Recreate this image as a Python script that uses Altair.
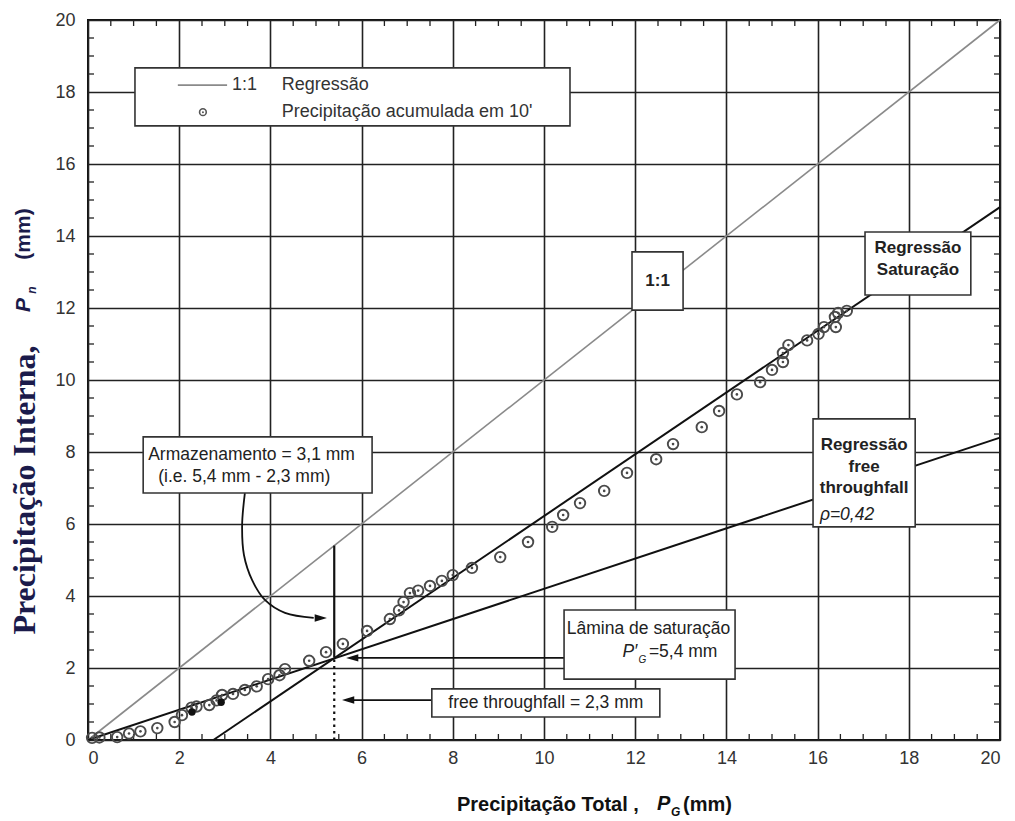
import altair as alt
import pandas as pd

# ---- observed 10-minute accumulations: gross rainfall (PG) vs throughfall (Pn), mm
pg_obs = [0.09, 0.25, 0.64, 0.90, 1.15, 1.52, 1.90, 2.06, 2.27, 2.38, 2.66, 2.82, 2.94,
          3.18, 3.44, 3.70, 3.95, 4.20, 4.32, 4.85, 5.22, 5.59, 6.12, 6.62, 6.82, 6.92,
          7.06, 7.24, 7.50, 7.76, 8.00, 8.42, 9.04, 9.65, 10.18, 10.42, 10.79, 11.32,
          11.82, 12.46, 12.83, 13.46, 13.84, 14.23, 14.74, 15.00, 15.24, 15.24, 15.36,
          15.77, 16.02, 16.14, 16.40, 16.38, 16.45, 16.64]
pn_obs = [0.06, 0.07, 0.08, 0.18, 0.24, 0.33, 0.50, 0.69, 0.90, 0.93, 0.97, 1.10, 1.25,
          1.28, 1.39, 1.49, 1.69, 1.80, 1.97, 2.20, 2.44, 2.67, 3.03, 3.36, 3.60, 3.83,
          4.08, 4.15, 4.28, 4.42, 4.58, 4.78, 5.08, 5.50, 5.92, 6.25, 6.58, 6.92,
          7.42, 7.80, 8.22, 8.69, 9.14, 9.60, 9.94, 10.28, 10.50, 10.75, 10.97,
          11.10, 11.28, 11.47, 11.47, 11.75, 11.86, 11.92]
# overlapping observations that render as solid dots
pg_dense = [2.28, 2.92]
pn_dense = [0.78, 1.05]

# ---- reference and regression lines (end points)
one_x = [0, 20]
one_y = [0, 20]
sat_x = [2.75, 20]
sat_y = [0.0, 14.8]
free_x = [0, 20]
free_y = [0.0, 8.4]

# saturation point and storage
pg_sat = 5.4
pn_free = 2.3

W, H = 912, 720
FONT = "Liberation Sans"
INK = "#222222"

SX = alt.Scale(domain=[0, 20], nice=False, zero=False)
SY = alt.Scale(domain=[0, 20], nice=False, zero=False)
AX = alt.Axis(values=list(range(0, 21, 2)), title=None, labelPadding=9)
AY = alt.Axis(values=list(range(0, 21, 2)), title=None, labelPadding=13)


def X(f):
    return alt.X(f, type="quantitative", scale=SX, axis=AX)


def Y(f):
    return alt.Y(f, type="quantitative", scale=SY, axis=AY)


def seg(xs, ys):
    return pd.DataFrame({"x": xs, "y": ys})


# minor ticks every 0.5 mm (drawn inward on all four sides)
minor = pd.DataFrame({"t": [v / 2 for v in range(1, 40) if v % 4 != 0]})
tick_style = dict(color=INK, strokeWidth=1.3)
ticks = [
    alt.Chart(minor).mark_rule(**tick_style).encode(x=X("t"), y=alt.value(H), y2=alt.value(H - 6)),
    alt.Chart(minor).mark_rule(**tick_style).encode(x=X("t"), y=alt.value(0), y2=alt.value(6)),
    alt.Chart(minor).mark_rule(**tick_style).encode(y=Y("t"), x=alt.value(0), x2=alt.value(6)),
    alt.Chart(minor).mark_rule(**tick_style).encode(y=Y("t"), x=alt.value(W), x2=alt.value(W - 6)),
]

line_one = alt.Chart(seg(one_x, one_y)).mark_line(color="#8a8a8a", strokeWidth=1.6).encode(x=X("x"), y=Y("y"))
line_sat = alt.Chart(seg(sat_x, sat_y)).mark_line(color="#111111", strokeWidth=2).encode(x=X("x"), y=Y("y"))
line_free = alt.Chart(seg(free_x, free_y)).mark_line(color="#111111", strokeWidth=2).encode(x=X("x"), y=Y("y"))

# storage segment (solid) and free-throughfall segment (dotted) at the saturation point
storage = alt.Chart(pd.DataFrame({"x": [pg_sat], "y": [pn_free], "y2": [pg_sat]})).mark_rule(
    color="#111111", strokeWidth=2.2).encode(x=X("x"), y=Y("y"), y2=alt.Y2("y2"))
dotted = alt.Chart(pd.DataFrame({"x": [pg_sat], "y": [0], "y2": [pn_free]})).mark_rule(
    color="#111111", strokeWidth=2.2, strokeDash=[2.5, 4]).encode(x=X("x"), y=Y("y"), y2=alt.Y2("y2"))

obs = seg(pg_obs, pn_obs)
rings = alt.Chart(obs).mark_point(shape="circle", filled=False, stroke="#4a4a4a", strokeWidth=1.9,
                                  size=110, opacity=1).encode(x=X("x"), y=Y("y"))
dots = alt.Chart(obs).mark_circle(color="#4a4a4a", size=7, opacity=1).encode(x=X("x"), y=Y("y"))
dense = alt.Chart(seg(pg_dense, pn_dense)).mark_circle(color="#111111", size=55, opacity=1).encode(
    x=X("x"), y=Y("y"))

# ---- annotation boxes (data coordinates)
boxes = pd.DataFrame({
    "x": [1.03, 11.93, 17.04, 15.90, 1.21, 10.44, 7.54],
    "x2": [10.57, 13.05, 19.36, 18.14, 6.23, 14.19, 12.54],
    "y": [18.67, 13.56, 14.11, 8.92, 8.42, 3.61, 1.42],
    "y2": [17.06, 11.94, 12.36, 5.92, 6.86, 1.69, 0.64],
})
box_layer = alt.Chart(boxes).mark_rect(fill="white", stroke="#333333", strokeWidth=1.6).encode(
    x=X("x"), x2=alt.X2("x2"), y=Y("y"), y2=alt.Y2("y2"))

# legend contents
leg_line = alt.Chart(pd.DataFrame({"x": [1.97], "x2": [3.05], "y": [18.19]})).mark_rule(
    color="#8a8a8a", strokeWidth=1.6).encode(x=X("x"), x2=alt.X2("x2"), y=Y("y"))
leg_ring = alt.Chart(pd.DataFrame({"x": [2.52], "y": [17.44]})).mark_point(
    shape="circle", filled=False, stroke="#555555", strokeWidth=1.6, size=45, opacity=1).encode(
    x=X("x"), y=Y("y"))
leg_dot = alt.Chart(pd.DataFrame({"x": [2.52], "y": [17.44]})).mark_circle(
    color="#555555", size=4, opacity=1).encode(x=X("x"), y=Y("y"))

# arrows
arrow_lines = alt.Chart(pd.DataFrame({
    "x": [10.44, 7.54], "x2": [5.75, 5.65], "y": [2.28, 1.11]})).mark_rule(
    color="#111111", strokeWidth=1.8).encode(x=X("x"), x2=alt.X2("x2"), y=Y("y"))
curve = alt.Chart(pd.DataFrame({
    "x": [3.44, 3.38, 3.42, 3.60, 3.88, 4.32, 4.95],
    "y": [6.86, 5.97, 5.14, 4.44, 3.89, 3.53, 3.39],
    "k": list(range(7)),
})).mark_line(color="#111111", strokeWidth=1.8, interpolate="catmull-rom").encode(
    x=X("x"), y=Y("y"), order="k:Q")
head_left = "M0,0L2,-0.6L2,0.6Z"
head_right = "M0,0L-2,-0.6L-2,0.6Z"
heads_l = alt.Chart(pd.DataFrame({"x": [5.66, 5.57], "y": [2.28, 1.11]})).mark_point(
    shape=head_left, filled=True, color="#111111", size=150, opacity=1).encode(x=X("x"), y=Y("y"))
heads_r = alt.Chart(pd.DataFrame({"x": [5.24], "y": [3.39]})).mark_point(
    shape=head_right, filled=True, color="#111111", size=150, opacity=1).encode(x=X("x"), y=Y("y"))


def texts(rows, **style):
    df = pd.DataFrame(rows, columns=["x", "y", "text"])
    base = dict(font=FONT, color=INK, baseline="middle")
    base.update(style)
    return alt.Chart(df).mark_text(**base).encode(x=X("x"), y=Y("y"), text="text:N")


legend_txt = texts([(3.16, 18.19, "1:1"), (4.25, 18.19, "Regressão"),
                    (4.25, 17.44, "Precipitação acumulada em 10'")],
                   align="left", fontSize=18, color="#333333")
note_left = texts([(1.32, 7.92, "Armazenamento = 3,1 mm"), (1.54, 7.31, "(i.e. 5,4 mm - 2,3 mm)"),
                   (10.50, 3.08, "Lâmina de saturação"), (12.30, 2.44, "=5,4 mm")],
                  align="left", fontSize=17.5)
note_center = texts([(10.04, 1.03, "free throughfall = 2,3 mm")], align="center", fontSize=17.5)
bold_center = texts([(12.49, 12.75, "1:1"), (18.2, 13.67, "Regressão"), (18.2, 13.06, "Saturação"),
                     (17.02, 8.19, "Regressão"), (17.02, 7.58, "free"), (17.02, 7.00, "throughfall")],
                    align="center", fontSize=17, fontWeight="bold")
italic_left = texts([(16.05, 6.25, "ρ=0,42"), (11.72, 2.44, "P′")], align="left", fontSize=17.5,
                    fontStyle="italic")
sub_g = texts([(12.07, 2.22, "G")], align="left", fontSize=10, fontStyle="italic")


# ---- axis titles built from pieces (plot-area pixel positions)
def ptext(x, y, s, **style):
    base = dict(font=FONT, color="#111111", baseline="middle", align="left")
    base.update(style)
    return alt.Chart(pd.DataFrame({"t": [s]})).mark_text(**base).encode(
        x=alt.value(x), y=alt.value(y), text="t:N")


x_title = [
    ptext(369, 785, "Precipitação Total ,", fontSize=20, fontWeight="bold"),
    ptext(569, 784, "P", fontSize=20, fontWeight="bold", fontStyle="italic"),
    ptext(583, 792, "G", fontSize=12, fontWeight="bold", fontStyle="italic"),
    ptext(595, 785, "(mm)", fontSize=20, fontWeight="bold"),
]
NAVY = "#1b1b4b"
y_title = [
    ptext(-63, 470, "Precipitação Interna,", font="Liberation Serif", fontSize=32,
          fontWeight="bold", color=NAVY, angle=270, align="center"),
    ptext(-64, 285, "P", fontSize=21, fontWeight="bold", fontStyle="italic", color=NAVY,
          angle=270, align="center"),
    ptext(-56, 270, "n", fontSize=12, fontWeight="bold", fontStyle="italic", color=NAVY,
          angle=270, align="center"),
    ptext(-64, 214, "(mm)", fontSize=21, fontWeight="bold", color=NAVY, angle=270, align="center"),
]

chart = alt.layer(
    *ticks, line_one, line_sat, line_free, storage, dotted, curve, arrow_lines,
    rings, dots, dense, heads_l, heads_r,
    box_layer, leg_line, leg_ring, leg_dot,
    legend_txt, note_left, note_center, bold_center, italic_left, sub_g,
    *x_title, *y_title,
).properties(
    width=W, height=H,
    autosize=alt.AutoSizeParams(type="none"),
    padding={"left": 88, "top": 20, "right": 15, "bottom": 81},
    background="white",
).configure_view(
    stroke="#111111", strokeWidth=2
).configure_axis(
    grid=True, gridColor=INK, gridWidth=1.6, gridOpacity=1,
    domain=False, ticks=False,
    labelFont=FONT, labelFontSize=18, labelColor="#333333",
)

chart.save("out.html", embed_options={"renderer": "svg", "actions": False})
